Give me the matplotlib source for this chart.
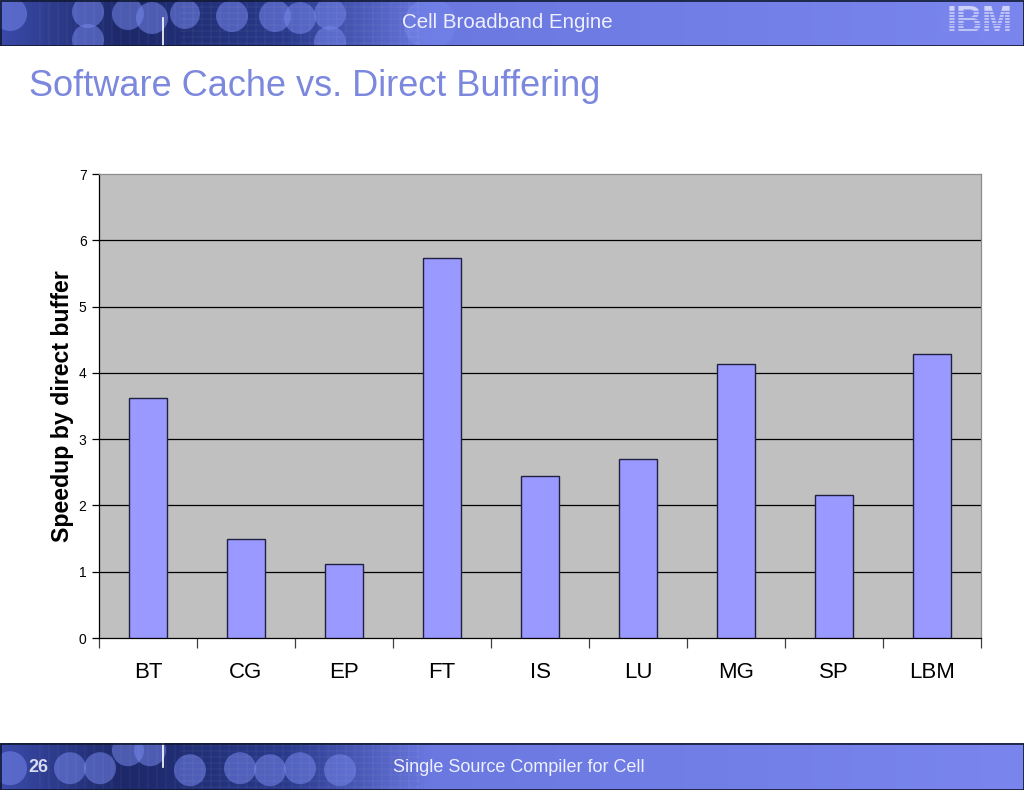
import numpy as np
import matplotlib
matplotlib.use("Agg")
import matplotlib.pyplot as plt
from matplotlib.colors import LinearSegmentedColormap
from matplotlib.patches import Circle, Rectangle

plt.rcParams['font.family'] = ['Liberation Sans', 'DejaVu Sans']

# data
benchmarks = ["BT", "CG", "EP", "FT", "IS", "LU", "MG", "SP", "LBM"]
speedup = [3.62, 1.49, 1.12, 5.73, 2.44, 2.70, 4.13, 2.16, 4.28]
y_ticks = [0, 1, 2, 3, 4, 5, 6, 7]

title = "Software Cache vs. Direct Buffering"
header_text = "Cell Broadband Engine"
footer_text = "Single Source Compiler for Cell"
page_no = "26"

W, H = 1024, 791
fig = plt.figure(figsize=(W / 100, H / 100), dpi=100)
fig.patch.set_facecolor("white")

banner_cmap = LinearSegmentedColormap.from_list(
    "banner", [(0.0, "#3a4aa8"), (0.12, "#1c2868"), (0.28, "#2a3a8c"),
               (0.42, "#6a78e0"), (1.0, "#7a86ee")])


def draw_banner(rect, circles, vline_x, vline_span):
    """Slide banner: gradient strip with faded circles."""
    ax = fig.add_axes(rect)
    ax.set_xlim(0, W)
    h_px = rect[3] * H
    ax.set_ylim(0, h_px)
    grad = np.linspace(0, 1, 512).reshape(1, -1)
    ax.imshow(grad, cmap=banner_cmap, aspect="auto",
              extent=[0, W, 0, h_px], zorder=0)
    for cx, cy, r in circles:
        ax.add_patch(Circle((cx, cy), r, color="#7585ea", alpha=0.55,
                            lw=0, zorder=1))
    # thin grid texture
    for gx in np.arange(40, 420, 9):
        ax.plot([gx, gx], [0, h_px], color="white", lw=0.3, alpha=0.15, zorder=2)
    for gy in np.arange(3, h_px, 6):
        ax.plot([180, 420], [gy, gy], color="white", lw=0.3, alpha=0.15, zorder=2)
    ax.plot([vline_x, vline_x], vline_span, color="white", lw=1.2, zorder=3)
    ax.add_patch(Rectangle((0.5, 0.5), W - 1, h_px - 1, fill=False,
                           ec="#101830", lw=1.2, zorder=4))
    ax.axis("off")
    return ax, h_px


# header
hdr_circles = [(10, 32, 17), (88, 34, 16), (88, 6, 16), (128, 32, 16),
               (152, 28, 16), (185, 32, 15), (232, 30, 16), (275, 30, 16),
               (300, 28, 16), (330, 32, 16), (330, 4, 16), (430, 22, 26)]
hdr, hh = draw_banner([0, 1 - 46 / H, 1, 46 / H], hdr_circles, 163, [0, 28])
hdr.text(507, hh / 2 + 1, header_text, color="#eef0ff", fontsize=14.8,
         ha="center", va="center", zorder=5)
hdr.text(980, hh / 2 + 1, "IBM", color="#cdd2f6", fontsize=26,
         fontweight="bold", ha="center", va="center", zorder=5)
for sy in np.linspace(hh / 2 - 11, hh / 2 + 12, 9):
    hdr.plot([940, 1020], [sy, sy], color="#7a86ee", lw=1.0, zorder=6)

# footer
ftr_circles = [(10, 22, 17), (70, 22, 16), (100, 22, 16), (128, 40, 16),
               (150, 40, 16), (190, 20, 16), (240, 22, 16), (270, 20, 16),
               (300, 22, 16), (340, 20, 16)]
ftr, fh = draw_banner([0, 0.001, 1, 47 / H], ftr_circles, 163, [23, 47])
ftr.text(38, fh / 2 - 1, page_no, color="#d8dbf2", fontsize=13,
         fontweight="bold", ha="center", va="center", zorder=5)
ftr.text(519, fh / 2 - 1, footer_text, color="#eef0ff", fontsize=13,
         ha="center", va="center", zorder=5)

# title
fig.text(29 / W, 1 - 86 / H, title, color="#7b88dd", fontsize=26,
         ha="left", va="center")

# chart
ax = fig.add_axes([99 / W, 153 / H, 882 / W, 464 / H])
ax.set_facecolor("#c0c0c0")
x = np.arange(len(benchmarks))
ax.bar(x, speedup, width=0.39, color="#9999ff", edgecolor="#202040",
       linewidth=1.0, zorder=3)
ax.set_xlim(-0.5, len(benchmarks) - 0.5)
ax.set_ylim(0, 7)
ax.set_yticks(y_ticks)
ax.set_yticklabels([str(t) for t in y_ticks], fontsize=10)
for t in y_ticks[1:-1]:
    ax.axhline(t, color="black", lw=0.9, zorder=2)

ax.set_xticks(x)
ax.set_xticklabels(benchmarks, fontsize=16)
ax.set_xticks(np.arange(-0.5, len(benchmarks)), minor=True)
ax.tick_params(axis="x", which="major", length=0, pad=17)
ax.tick_params(axis="x", which="minor", length=7, width=0.9, direction="out",
               color="#404040")
ax.tick_params(axis="y", length=5, width=0.9, direction="out", pad=4)

ax.spines["left"].set_color("black")
ax.spines["bottom"].set_color("black")
ax.spines["top"].set_color("#8c8c8c")
ax.spines["right"].set_color("#8c8c8c")
for s in ax.spines.values():
    s.set_linewidth(0.9)

ax.set_ylabel("Speedup by direct buffer", fontsize=16.7, fontweight="bold",
              labelpad=3)

fig.savefig("out.png", dpi=100, facecolor=fig.get_facecolor())
